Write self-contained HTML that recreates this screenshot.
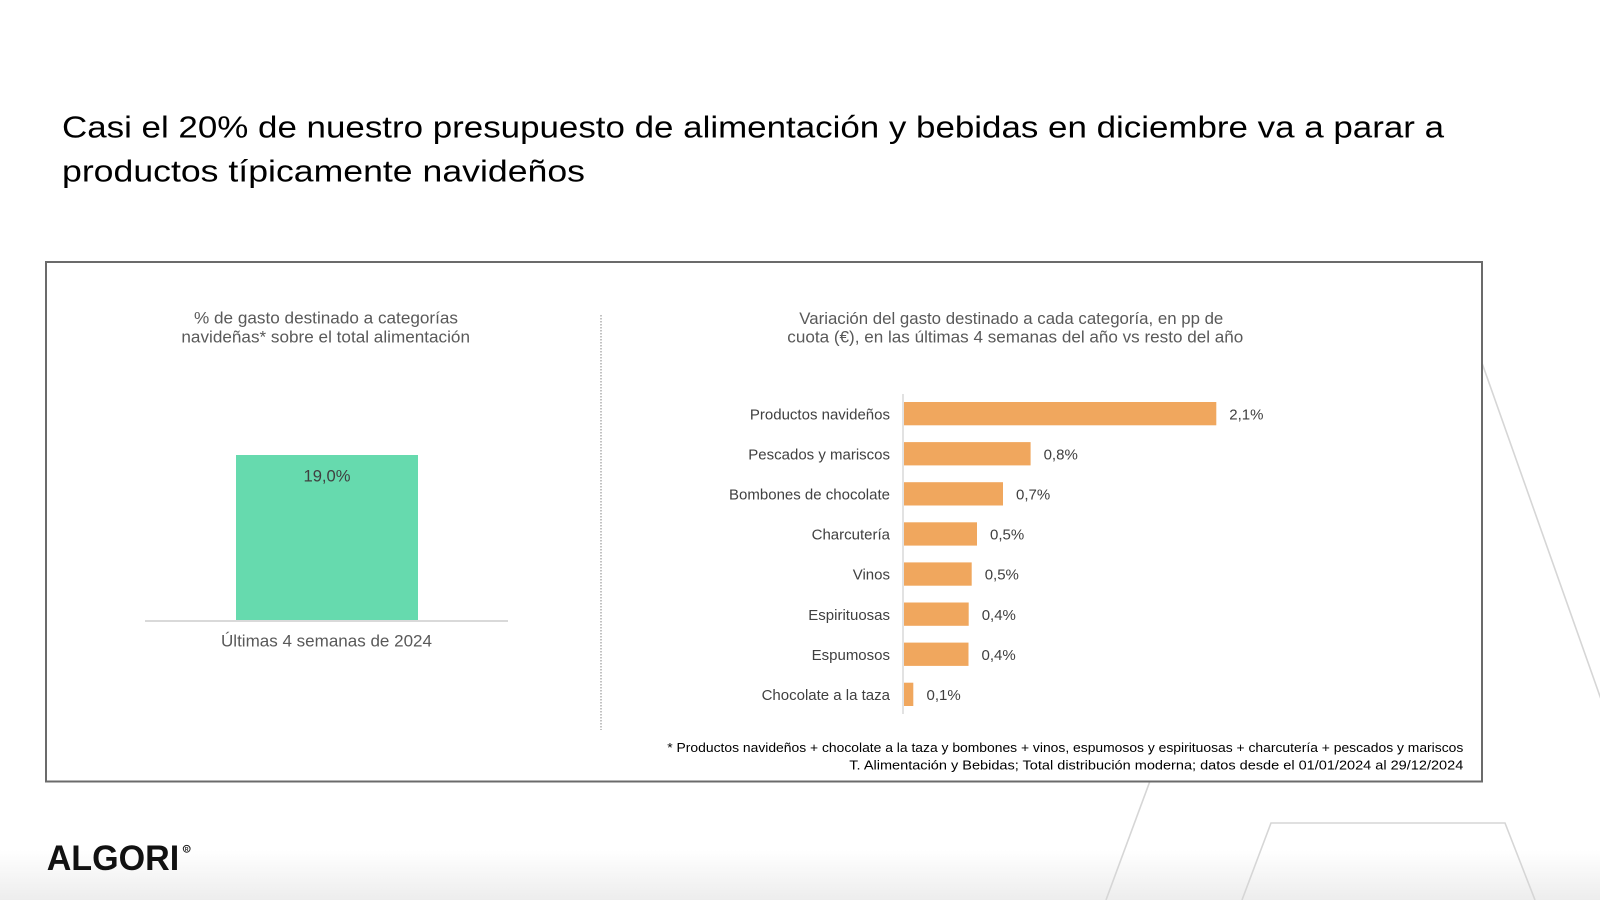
<!DOCTYPE html>
<html>
<head>
<meta charset="utf-8">
<style>
  html, body { margin: 0; padding: 0; background: #ffffff; }
  body { width: 1600px; height: 900px; overflow: hidden; }
  svg { display: block; }
  text { font-family: "Liberation Sans", Arial, sans-serif; }
</style>
</head>
<body>
<svg width="1600" height="900" viewBox="0 0 1600 900" xmlns="http://www.w3.org/2000/svg">
  <defs>
    <linearGradient id="bg" x1="0" y1="0" x2="0" y2="1">
      <stop offset="0" stop-color="#ffffff"/>
      <stop offset="1" stop-color="#ededed"/>
    </linearGradient>
  </defs>
  <rect x="0" y="0" width="1600" height="900" fill="#ffffff"/>
  <rect x="0" y="850" width="1600" height="50" fill="url(#bg)"/>

  <!-- decorative lines -->
  <g stroke="#d6d6d6" stroke-width="1.6" fill="none">
    <line x1="1482" y1="363" x2="1602" y2="702"/>
    <line x1="1150" y1="781" x2="1106" y2="900"/>
    <polyline points="1242,900 1271,823 1505,823 1535,900"/>
  </g>

  <!-- Title -->
  <text x="62" y="137.3" font-size="31" fill="#000" textLength="1382" lengthAdjust="spacingAndGlyphs">Casi el 20% de nuestro presupuesto de alimentación y bebidas en diciembre va a parar a</text>
  <text x="62" y="181.3" font-size="31" fill="#000" textLength="523" lengthAdjust="spacingAndGlyphs">productos típicamente navideños</text>

  <!-- Box -->
  <rect x="46" y="262" width="1436" height="519.5" fill="#ffffff" stroke="#6b6b6b" stroke-width="2"/>

  <!-- Left chart -->
  <text x="194" y="323.3" font-size="17" fill="#595959" textLength="264" lengthAdjust="spacingAndGlyphs">% de gasto destinado a categorías</text>
  <text x="181.4" y="342.3" font-size="17" fill="#595959" textLength="288.6" lengthAdjust="spacingAndGlyphs">navideñas* sobre el total alimentación</text>
  <rect x="236" y="455" width="182" height="165.5" fill="#66DAAE"/>
  <line x1="145" y1="621" x2="508" y2="621" stroke="#d9d9d9" stroke-width="2"/>
  <text x="327" y="481.7" font-size="16.6" fill="#404040" text-anchor="middle">19,0%</text>
  <text x="221" y="646.7" font-size="17" fill="#595959" textLength="211" lengthAdjust="spacingAndGlyphs">Últimas 4 semanas de 2024</text>

  <!-- divider -->
  <line x1="601" y1="315" x2="601" y2="730" stroke="#9a9a9a" stroke-width="1.2" stroke-dasharray="1.5,1.5"/>

  <!-- Right chart title -->
  <text x="799.3" y="324" font-size="17" fill="#595959" textLength="424" lengthAdjust="spacingAndGlyphs">Variación del gasto destinado a cada categoría, en pp de</text>
  <text x="787.3" y="342.7" font-size="17" fill="#595959" textLength="456" lengthAdjust="spacingAndGlyphs">cuota (€), en las últimas 4 semanas del año vs resto del año</text>

  <!-- bars -->
  <g fill="#F0A75E">
    <rect x="904" y="402" width="312.3" height="23.3"/>
    <rect x="904" y="442.1" width="126.6" height="23.3"/>
    <rect x="904" y="482.2" width="99" height="23.3"/>
    <rect x="904" y="522.3" width="73" height="23.3"/>
    <rect x="904" y="562.4" width="67.7" height="23.3"/>
    <rect x="904" y="602.5" width="64.7" height="23.3"/>
    <rect x="904" y="642.6" width="64.5" height="23.3"/>
    <rect x="904" y="682.7" width="9.3" height="23.3"/>
  </g>
  <line x1="903" y1="394" x2="903" y2="714" stroke="#d9d9d9" stroke-width="1.5"/>

  <g font-size="15" fill="#404040" text-anchor="end">
    <text x="890" y="419.3">Productos navideños</text>
    <text x="890" y="459.4">Pescados y mariscos</text>
    <text x="890" y="499.5">Bombones de chocolate</text>
    <text x="890" y="539.6">Charcutería</text>
    <text x="890" y="579.7">Vinos</text>
    <text x="890" y="619.8">Espirituosas</text>
    <text x="890" y="659.9">Espumosos</text>
    <text x="890" y="700">Chocolate a la taza</text>
  </g>
  <g font-size="15" fill="#404040">
    <text x="1229.3" y="419.3">2,1%</text>
    <text x="1043.6" y="459.4">0,8%</text>
    <text x="1016" y="499.5">0,7%</text>
    <text x="990" y="539.6">0,5%</text>
    <text x="984.7" y="579.7">0,5%</text>
    <text x="981.7" y="619.8">0,4%</text>
    <text x="981.5" y="659.9">0,4%</text>
    <text x="926.5" y="700">0,1%</text>
  </g>

  <!-- footnote -->
  <text x="667.3" y="752" font-size="12.5" fill="#000" textLength="796" lengthAdjust="spacingAndGlyphs">* Productos navideños + chocolate a la taza y bombones + vinos, espumosos y espirituosas + charcutería + pescados y mariscos</text>
  <text x="849.3" y="769.5" font-size="12.5" fill="#000" textLength="614" lengthAdjust="spacingAndGlyphs">T. Alimentación y Bebidas; Total distribución moderna; datos desde el 01/01/2024 al 29/12/2024</text>

  <!-- logo -->
  <text x="46.7" y="870" font-size="35" font-weight="bold" fill="#111" textLength="132.5" lengthAdjust="spacingAndGlyphs">ALGORI</text>
  <circle cx="186.7" cy="848.8" r="3.4" fill="none" stroke="#222" stroke-width="1"/>
  <text x="186.7" y="851" font-size="5" font-weight="bold" fill="#222" text-anchor="middle">R</text>
</svg>
</body>
</html>
